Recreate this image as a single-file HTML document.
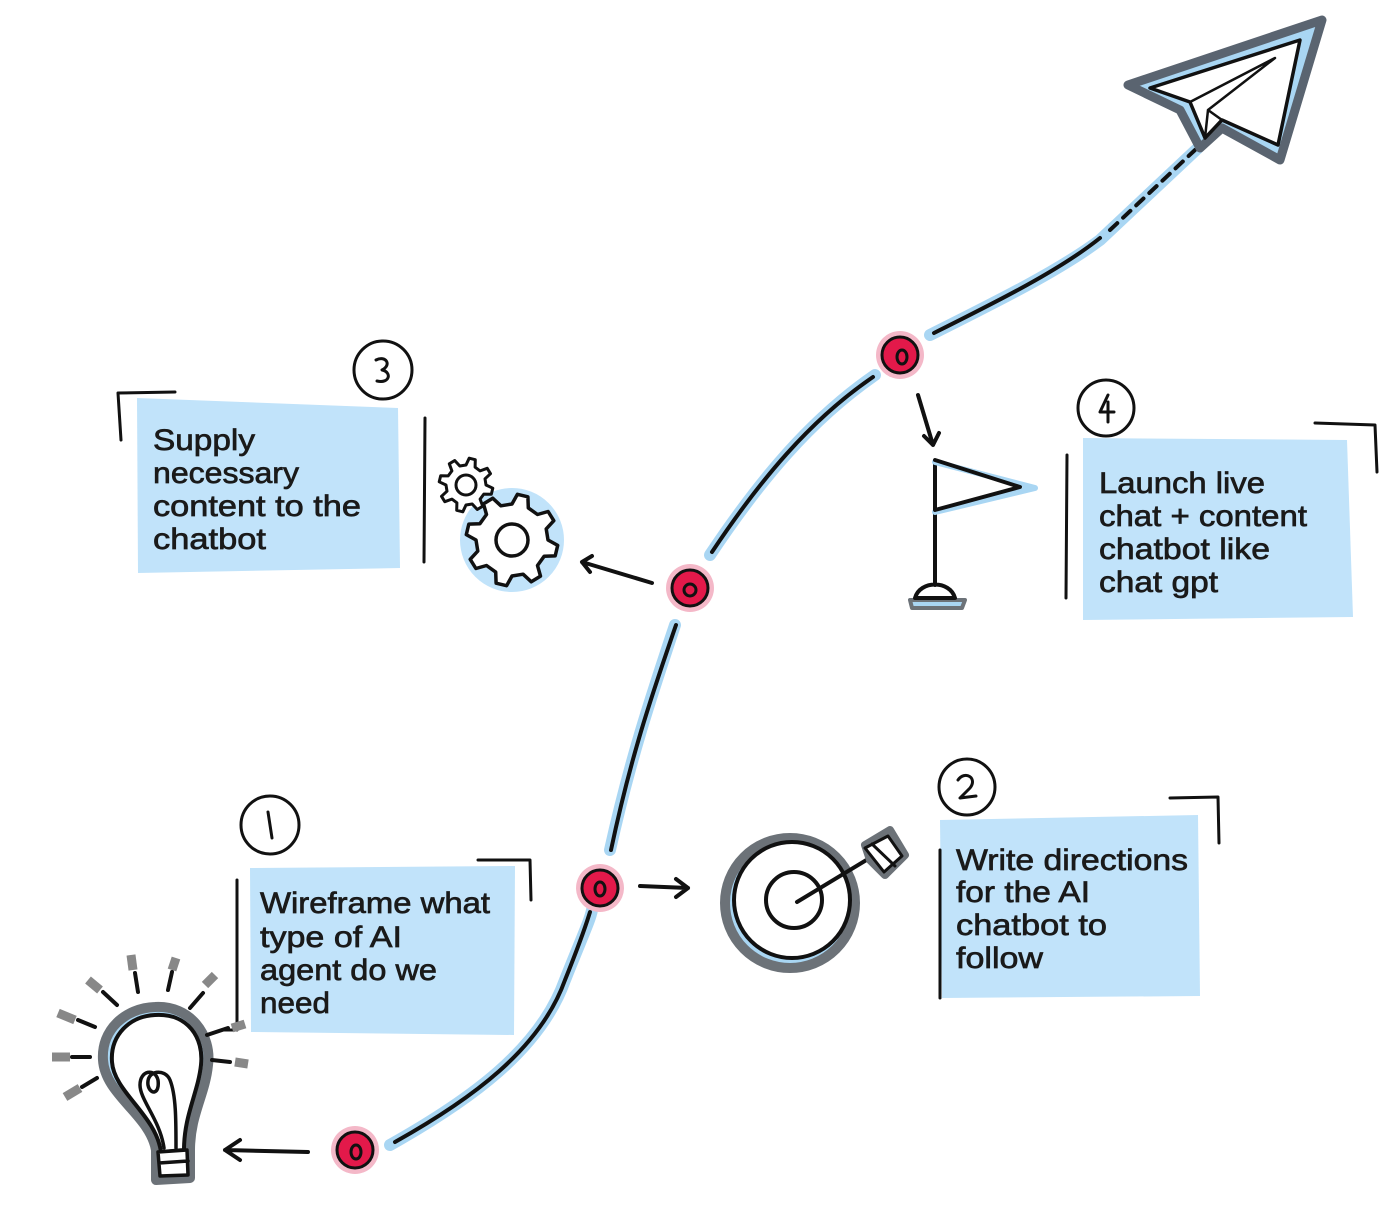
<!DOCTYPE html>
<html><head><meta charset="utf-8"><style>
html,body{margin:0;padding:0;background:#fff;}
svg{display:block}
text{font-family:"Liberation Sans",sans-serif;font-size:30px;fill:#1a1a1a;stroke:#1a1a1a;stroke-width:0.7px;}
</style></head><body>
<svg id="s" width="1388" height="1224" viewBox="0 0 1388 1224" xmlns="http://www.w3.org/2000/svg">
<g fill="none" stroke-linecap="round" stroke-linejoin="round">
<g stroke="#a9d6f3" stroke-width="12">
<path d="M390 1145 C470 1100 540 1050 565 980 C585 930 590 920 592 910"/>
<path d="M610 850 C630 760 650 700 675 625"/>
<path d="M710 555 C760 480 810 420 875 375"/>
<path d="M930 335 C1000 300 1060 270 1100 240 L1198 148"/>
</g>
<g stroke="#111" stroke-width="4">
<path d="M395 1142 C470 1100 540 1050 565 980 C585 930 588 918 590 912"/>
<path d="M611 850 C630 760 650 700 676 625"/>
<path d="M712 552 C760 480 810 420 873 377"/>
<path d="M934 333 C1000 300 1060 270 1100 238"/>
<path d="M1110 230 L1195 150" stroke-dasharray="10 8"/>
</g>
<path d="M1128 85 L1322 20 L1280 160 L1222 128 L1200 148 L1180 110 Z" stroke="#5a6470" stroke-width="9" fill="#a9d6f3"/>
<path d="M1150 88 L1300 40 L1278 145 L1222 120 L1205 138 L1190 102 Z" stroke="#111" stroke-width="3.5" fill="#fff"/>
<path d="M1190 102 L1275 58 L1208 110 L1205 138 M1208 110 L1222 120" stroke="#111" stroke-width="2.5"/>
<g>
<circle cx="355" cy="1150" r="24" fill="#f4b8c8" stroke="none"/>
<circle cx="355" cy="1150" r="18" fill="#e3194a" stroke="#111" stroke-width="3"/>
<ellipse cx="356" cy="1152" rx="5" ry="7" stroke="#111" stroke-width="3"/>
<circle cx="600" cy="888" r="24" fill="#f4b8c8" stroke="none"/>
<circle cx="600" cy="888" r="18" fill="#e3194a" stroke="#111" stroke-width="3"/>
<ellipse cx="600" cy="889" rx="5" ry="7" stroke="#111" stroke-width="3"/>
<circle cx="690" cy="588" r="24" fill="#f4b8c8" stroke="none"/>
<circle cx="690" cy="588" r="18" fill="#e3194a" stroke="#111" stroke-width="3"/>
<ellipse cx="690" cy="590" rx="6" ry="6" stroke="#111" stroke-width="3"/>
<circle cx="900" cy="355" r="24" fill="#f4b8c8" stroke="none"/>
<circle cx="900" cy="355" r="18" fill="#e3194a" stroke="#111" stroke-width="3"/>
<ellipse cx="902" cy="357" rx="5" ry="7" stroke="#111" stroke-width="3"/>
</g>
<g stroke="#111" stroke-width="4">
<path d="M308 1152 L225 1150 M240 1140 L225 1150 L240 1160"/>
<path d="M640 886 L688 888 M676 879 L688 888 L676 897"/>
<path d="M652 583 L582 562 M592 556 L582 562 L590 572"/>
<path d="M918 395 L933 445 M924 436 L933 445 L939 433"/>
</g>
<g stroke="none" fill="#c1e3fa">
<path d="M250 868 L515 866 L514 1035 L251 1032 Z"/>
<path d="M940 820 L1198 815 L1200 996 L942 998 Z"/>
<path d="M137 398 L398 408 L400 568 L138 573 Z"/>
<path d="M1083 438 L1347 440 L1353 617 L1083 620 Z"/>
</g>
<g stroke="#111" stroke-width="3">
<path d="M237 880 L237 1030 L222 1030"/>
<path d="M478 860 L530 860 L531 900"/>
<path d="M940 850 L940 998"/>
<path d="M1170 798 L1218 797 L1219 843"/>
<path d="M121 440 L118 393 L175 392"/>
<path d="M425 418 L424 562"/>
<path d="M1067 455 L1066 598"/>
<path d="M1315 423 L1375 425 L1377 472"/>
</g>
<g stroke="#111" stroke-width="3">
<circle cx="270" cy="825" r="29"/>
<path d="M268 812 L272 838"/>
<circle cx="967" cy="787" r="28"/>
<path d="M958 780 C965 770 978 778 970 788 L960 798 L976 796"/>
<circle cx="383" cy="370" r="29"/>
<path d="M376 360 C386 355 392 365 382 370 C392 372 390 384 377 381"/>
<circle cx="1106" cy="408" r="28"/>
<path d="M1108 395 L1100 412 L1114 412 M1108 402 L1108 422"/>
</g>
<!-- bulb -->
<g>
<path d="M155 1007 C190 1005 212 1035 208 1065 C205 1095 190 1115 190 1150 L190 1178 L156 1180 L156 1150 C150 1115 105 1095 103 1060 C101 1030 125 1008 155 1007 Z" stroke="#6c7278" stroke-width="10" fill="#a9d6f3"/>
<path d="M155 1015 C188 1013 204 1038 201 1065 C198 1093 184 1115 184 1150 L161 1152 C156 1115 114 1092 112 1062 C110 1035 130 1016 155 1015 Z" stroke="#111" stroke-width="4" fill="#fff"/>
<path d="M164 1148 C160 1120 140 1100 140 1085 C140 1070 155 1068 158 1080 C160 1095 150 1095 148 1085 C146 1070 165 1068 170 1080 C176 1095 176 1120 176 1148" stroke="#111" stroke-width="3.5"/>
<path d="M158 1152 L187 1150 L188 1175 L160 1176 Z M159 1163 L188 1161" stroke="#111" stroke-width="3.5" fill="#fff"/>
<g stroke="#888" stroke-width="9" stroke-linecap="butt">
<path d="M70 1057 L52 1057"/><path d="M80 1088 L65 1097"/><path d="M75 1020 L58 1013"/><path d="M100 990 L88 980"/><path d="M133 970 L131 955"/><path d="M172 970 L176 958"/><path d="M205 985 L215 975"/><path d="M232 1028 L245 1024"/><path d="M235 1062 L248 1064"/>
</g>
<g stroke="#111" stroke-width="4">
<path d="M90 1057 L72 1057"/><path d="M97 1078 L82 1087"/><path d="M95 1027 L78 1020"/><path d="M117 1005 L103 992"/><path d="M138 992 L135 973"/><path d="M168 990 L172 972"/><path d="M190 1008 L203 993"/><path d="M207 1035 L228 1028"/><path d="M212 1060 L230 1062"/>
</g>
</g>
<!-- target -->
<circle cx="790" cy="903" r="65" stroke="#6c7278" stroke-width="10" fill="#a9d6f3"/>
<circle cx="792" cy="900" r="58" stroke="#111" stroke-width="4" fill="#fff"/>
<circle cx="794" cy="900" r="28" stroke="#111" stroke-width="4"/>
<path d="M797 902 L878 853" stroke="#111" stroke-width="4"/>
<path d="M865 845 L890 830 L905 855 L885 875 L870 860 Z" stroke="#6c7278" stroke-width="8" fill="#a9d6f3"/>
<path d="M865 848 L888 836 L902 856 L884 872 Z M872 844 L895 866" stroke="#111" stroke-width="3" fill="#fff"/>
<!-- gears -->
<circle cx="512" cy="540" r="47" fill="#c1e3fa" stroke="#c1e3fa" stroke-width="10"/>
<path id="g1" stroke="#111" stroke-width="3.5" fill="#fff"/>
<circle cx="512" cy="540" r="16" stroke="#111" stroke-width="3.5"/>
<path id="g2" stroke="#111" stroke-width="3" fill="#fff"/>
<circle cx="466" cy="485" r="10" stroke="#111" stroke-width="3"/>
<!-- flag -->
<path d="M910 600 L965 600 L962 608 L912 608 Z" fill="#a9d6f3" stroke="#6c7278" stroke-width="4"/>
<path d="M935 462 L935 585 M915 598 C920 580 950 580 955 598 Z" stroke="#111" stroke-width="4"/>
<path d="M935 462 L1035 488 L935 512" stroke="#a9d6f3" stroke-width="6"/>
<path d="M935 460 L1020 487 L935 510" stroke="#111" stroke-width="4"/>
</g>
<g lengthAdjust="spacingAndGlyphs">
<text x="260" y="913" textLength="230" lengthAdjust="spacingAndGlyphs">Wireframe what</text>
<text x="260" y="947" textLength="142" lengthAdjust="spacingAndGlyphs">type of AI</text>
<text x="260" y="980" textLength="177" lengthAdjust="spacingAndGlyphs">agent do we</text>
<text x="260" y="1013" textLength="70" lengthAdjust="spacingAndGlyphs">need</text>
<text x="956" y="870" textLength="232" lengthAdjust="spacingAndGlyphs">Write directions</text>
<text x="956" y="902" textLength="134" lengthAdjust="spacingAndGlyphs">for the AI</text>
<text x="956" y="935" textLength="151" lengthAdjust="spacingAndGlyphs">chatbot to</text>
<text x="956" y="968" textLength="87" lengthAdjust="spacingAndGlyphs">follow</text>
<text x="153" y="450" textLength="102" lengthAdjust="spacingAndGlyphs">Supply</text>
<text x="153" y="483" textLength="146" lengthAdjust="spacingAndGlyphs">necessary</text>
<text x="153" y="516" textLength="208" lengthAdjust="spacingAndGlyphs">content to the</text>
<text x="153" y="549" textLength="113" lengthAdjust="spacingAndGlyphs">chatbot</text>
<text x="1099" y="493" textLength="166" lengthAdjust="spacingAndGlyphs">Launch live</text>
<text x="1099" y="526" textLength="208" lengthAdjust="spacingAndGlyphs">chat + content</text>
<text x="1099" y="559" textLength="171" lengthAdjust="spacingAndGlyphs">chatbot like</text>
<text x="1099" y="592" textLength="119" lengthAdjust="spacingAndGlyphs">chat gpt</text>
</g>
</svg>
<script>
function gear(cx,cy,r1,r2,n){var d="",s=Math.PI*2/n;for(var i=0;i<n;i++){var a=i*s;var pts=[[r1,a],[r2,a+s*0.15],[r2,a+s*0.45],[r1,a+s*0.6]];pts.forEach(function(p,j){var x=cx+p[0]*Math.cos(p[1]),y=cy+p[0]*Math.sin(p[1]);d+=(i==0&&j==0?"M":"L")+x.toFixed(1)+" "+y.toFixed(1)+" ";});}return d+"Z";}
document.getElementById("g1").setAttribute("d",gear(512,540,36,46,8));
document.getElementById("g2").setAttribute("d",gear(466,485,20,27,8));
</script>
</body></html>
